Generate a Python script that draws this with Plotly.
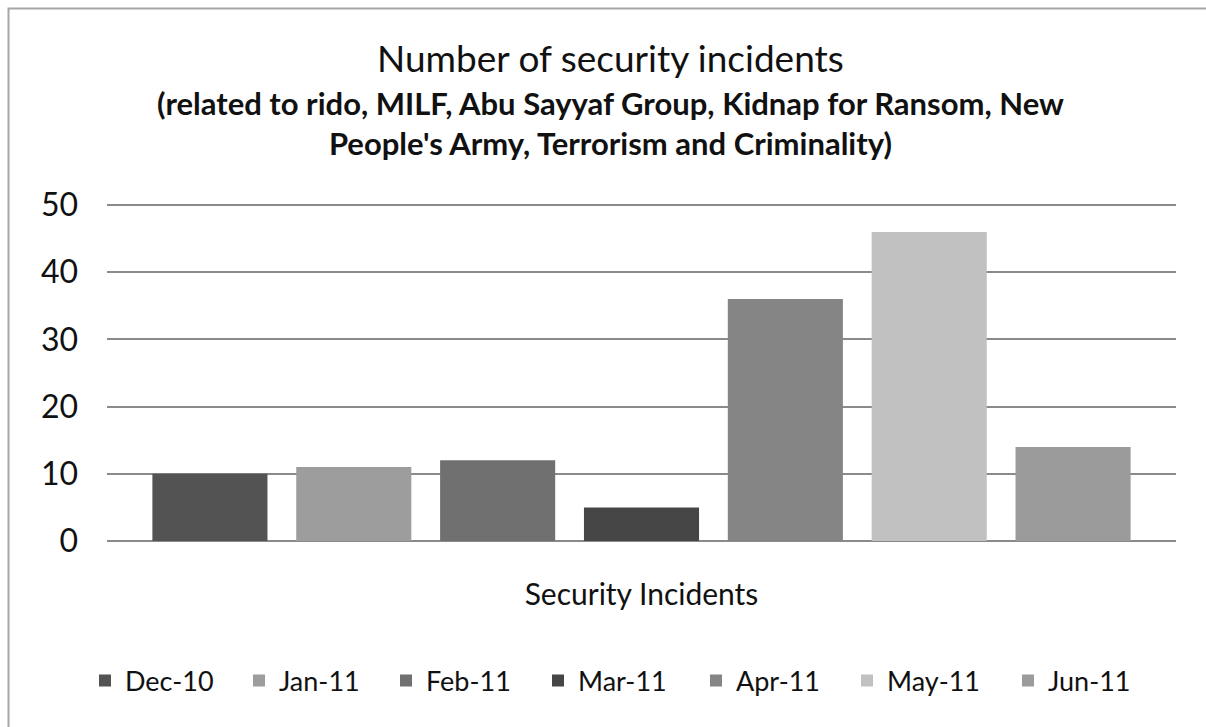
import plotly.graph_objects as go

months = ["Dec-10", "Jan-11", "Feb-11", "Mar-11", "Apr-11", "May-11", "Jun-11"]
incidents = [10, 11, 12, 5, 36, 46, 14]
colors = ["#535353", "#9d9d9d", "#707070", "#464646", "#858585", "#c1c1c1", "#9b9b9b"]
category = "Security Incidents"
y_ticks = [0, 10, 20, 30, 40, 50]

FONT = "Lato"
W, H = 1206, 727
L, R, T, B = 107, 30, 204, 186
pw, ph = W - L - R, H - T - B

def px_x(x):
    return (x - L) / pw

def px_y(y):
    return (H - B - y) / ph

# legend entry anchors (pixel x of each entry's left edge)
legend_left = [85, 239, 386, 538, 696, 847, 1008]

fig = go.Figure()
for i, (m, v, c) in enumerate(zip(months, incidents, colors)):
    fig.add_trace(go.Bar(x=[category], y=[v], name=m, marker=dict(color=c, line=dict(width=0)),
                         legend="legend" if i == 0 else f"legend{i+1}"))

layout_legends = {}
for i, lx in enumerate(legend_left):
    key = "legend" if i == 0 else f"legend{i+1}"
    layout_legends[key] = dict(orientation="h", x=px_x(lx), xanchor="left", y=px_y(681), yanchor="middle",
                               font=dict(size=27, family=FONT, color="#111111"),
                               itemwidth=30, bgcolor="rgba(0,0,0,0)")

fig.update_layout(
    width=W, height=H,
    margin=dict(l=L, r=R, t=T, b=B),
    paper_bgcolor="white", plot_bgcolor="white",
    barmode="group", bargap=0.058, bargroupgap=0.2,
    font=dict(family=FONT, color="#111111"),
    showlegend=True,
    xaxis=dict(showgrid=False, showline=False, ticks="", tickfont=dict(size=30, family=FONT, color="#111111"),
               ticklabelstandoff=33),
    yaxis=dict(range=[0, 50.15], tickvals=y_ticks, showgrid=True, gridcolor="#8a8a8a", gridwidth=1.5,
               zeroline=True, zerolinecolor="#8a8a8a", zerolinewidth=1.5, showline=False,
               ticks="", tickfont=dict(size=32, family=FONT, color="#111111"), ticklabelstandoff=28),
    **layout_legends,
)

fig.add_annotation(text="Number of security incidents", xref="paper", yref="paper",
                   x=px_x(610), y=px_y(58), xanchor="center", yanchor="middle", showarrow=False,
                   font=dict(size=37, family=FONT, color="#111111"))
fig.add_annotation(text="<b>(related to rido, MILF, Abu Sayyaf Group, Kidnap for Ransom, New<br>People's Army, Terrorism and Criminality)</b>",
                   xref="paper", yref="paper", x=px_x(610), y=px_y(123), xanchor="center", yanchor="middle",
                   showarrow=False, align="center",
                   font=dict(size=31, family=FONT, color="#111111"))

fig.add_shape(type="rect", xref="paper", yref="paper",
              x0=px_x(8.5), y0=px_y(740), x1=px_x(1220), y1=px_y(8.5),
              line=dict(color="#a6a6a6", width=2), fillcolor="rgba(0,0,0,0)", layer="below")

fig.write_html("out.html")
